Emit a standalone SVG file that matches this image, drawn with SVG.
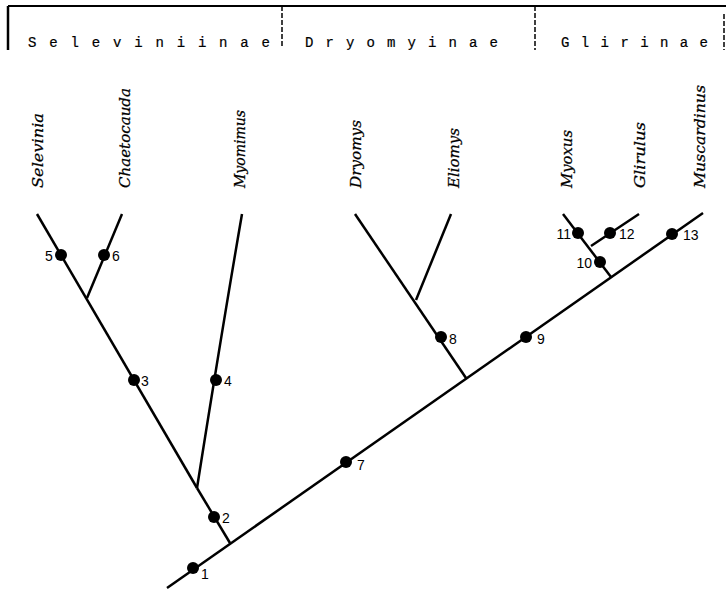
<svg xmlns="http://www.w3.org/2000/svg" width="726" height="592" viewBox="0 0 726 592">
<style>
.frame{stroke:#000;stroke-width:2;fill:none}
.div{stroke:#000;stroke-width:1.5;fill:none;stroke-dasharray:5 2}
.grp{font-family:"Liberation Mono",monospace;font-size:14px;fill:#000;stroke:#000;stroke-width:0.2}
.tax{font-family:"DejaVu Serif",serif;font-style:italic;font-size:15px;fill:#000;stroke:#000;stroke-width:0.25}
.br{stroke:#000;stroke-width:2.5;fill:none;stroke-linecap:butt}
.dot{fill:#000}
.num{font-family:"Liberation Sans",sans-serif;font-size:14px;fill:#000}
</style>
<g id="header">
<line class="frame" x1="8" y1="6" x2="726" y2="6"/>
<line class="frame" x1="8" y1="6" x2="8" y2="50" style="stroke-width:2.5"/>
<line class="div" x1="282" y1="6" x2="282" y2="48"/>
<line class="div" x1="535" y1="6" x2="535" y2="50"/>
<line class="div" x1="724" y1="14" x2="724" y2="50"/>
<text class="grp" x="28" y="47" textLength="242" lengthAdjust="spacing">S e l e v i n i i n a e</text>
<text class="grp" x="305" y="47" textLength="193" lengthAdjust="spacing">D r y o m y i n a e</text>
<text class="grp" x="561" y="47" textLength="147" lengthAdjust="spacing">G l i r i n a e</text>
</g>
<g id="taxa">
<text class="tax" transform="translate(43,188) rotate(-90)" textLength="75" lengthAdjust="spacingAndGlyphs">Selevinia</text>
<text class="tax" transform="translate(130,188) rotate(-90)" textLength="100" lengthAdjust="spacingAndGlyphs">Chaetocauda</text>
<text class="tax" transform="translate(245,188) rotate(-90)" textLength="78" lengthAdjust="spacingAndGlyphs">Myomimus</text>
<text class="tax" transform="translate(361,188) rotate(-90)" textLength="68" lengthAdjust="spacingAndGlyphs">Dryomys</text>
<text class="tax" transform="translate(459,188) rotate(-90)" textLength="60" lengthAdjust="spacingAndGlyphs">Eliomys</text>
<text class="tax" transform="translate(572,188) rotate(-90)" textLength="58" lengthAdjust="spacingAndGlyphs">Myoxus</text>
<text class="tax" transform="translate(645,188) rotate(-90)" textLength="66" lengthAdjust="spacingAndGlyphs">Glirulus</text>
<text class="tax" transform="translate(705,188) rotate(-90)" textLength="103" lengthAdjust="spacingAndGlyphs">Muscardinus</text>
</g>
<g id="connectors">
<line class="br" x1="167" y1="588" x2="703" y2="213"/>
<line class="br" x1="230" y1="543" x2="197" y2="488"/>
<line class="br" x1="197" y1="488" x2="37" y2="214"/>
<line class="br" x1="87" y1="298" x2="122" y2="214"/>
<path class="br" d="M197 488 Q222 330 242 214"/>
<line class="br" x1="466" y1="378" x2="355" y2="214"/>
<line class="br" x1="416" y1="300" x2="451" y2="214"/>
<line class="br" x1="611" y1="277" x2="563" y2="214"/>
<line class="br" x1="591" y1="246" x2="639" y2="214"/>
</g>
<g id="n1"><circle class="dot" cx="193" cy="568" r="6"/><text class="num" x="201" y="579">1</text></g>
<g id="n2"><circle class="dot" cx="214" cy="517" r="6"/><text class="num" x="222" y="523">2</text></g>
<g id="n3"><circle class="dot" cx="134" cy="380" r="6"/><text class="num" x="141" y="386">3</text></g>
<g id="n4"><circle class="dot" cx="216" cy="380" r="6"/><text class="num" x="224" y="386">4</text></g>
<g id="n5"><circle class="dot" cx="61" cy="255" r="6"/><text class="num" x="45" y="261">5</text></g>
<g id="n6"><circle class="dot" cx="104" cy="255" r="6"/><text class="num" x="112" y="261">6</text></g>
<g id="n7"><circle class="dot" cx="346" cy="462" r="6"/><text class="num" x="357" y="470">7</text></g>
<g id="n8"><circle class="dot" cx="441" cy="337" r="6"/><text class="num" x="449" y="344">8</text></g>
<g id="n9"><circle class="dot" cx="526" cy="337" r="6"/><text class="num" x="537" y="344">9</text></g>
<g id="n10"><circle class="dot" cx="600" cy="262" r="6"/><text class="num" x="592" y="268" text-anchor="end">10</text></g>
<g id="n11"><circle class="dot" cx="578" cy="233" r="6"/><text class="num" x="571" y="239" text-anchor="end">11</text></g>
<g id="n12"><circle class="dot" cx="610" cy="233" r="6"/><text class="num" x="619" y="239">12</text></g>
<g id="n13"><circle class="dot" cx="672" cy="234" r="6"/><text class="num" x="683" y="240">13</text></g>
</svg>
